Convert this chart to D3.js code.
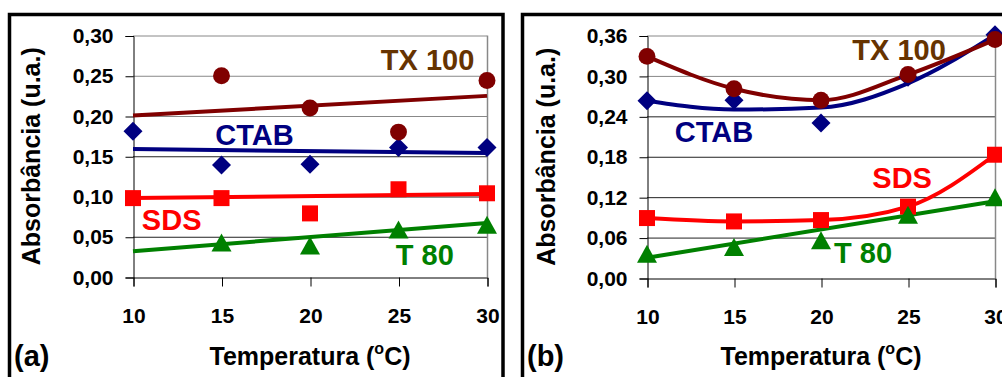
<!DOCTYPE html>
<html>
<head>
<meta charset="utf-8">
<script src="https://cdn.jsdelivr.net/npm/d3@7"></script>
<style>
  html, body { margin: 0; padding: 0; background: #fff; }
  svg { display: block; font-family: "Liberation Sans", Arial, sans-serif; font-weight: bold; }
</style>
</head>
<body>
<svg id="chart" width="1002" height="377"></svg>
<script>
// ---------- DATA ----------
const temps = [10, 15, 20, 25, 30];
const trendEnds = [10, 30];

// Panel (a): markers
const aTX100 = [null, 0.25, 0.21, 0.18, 0.244];
const aCTAB  = [0.181, 0.139, 0.14, 0.161, 0.161];
const aSDS   = [0.098, 0.098, 0.079, 0.109, 0.104];
const aT80   = [null, 0.043, 0.039, 0.059, 0.065];
// Panel (a): linear trend lines (values at 10 and 30 °C)
const aTrendTX100 = [0.2005, 0.225];
const aTrendCTAB  = [0.159, 0.154];
const aTrendSDS   = [0.098, 0.103];
const aTrendT80   = [0.032, 0.067];

// Panel (b): markers
const bTX100 = [0.329, 0.281, 0.264, 0.302, 0.354];
const bCTAB  = [0.263, 0.264, 0.230, 0.298, 0.361];
const bSDS   = [0.089, 0.084, 0.086, 0.106, 0.183];
const bT80   = [0.036, 0.046, 0.056, 0.094, 0.120];
// Panel (b): CTAB polynomial trend (at temps), T80 linear trend (at 10 and 30)
const bTrendCTAB = [0.263, 0.250, 0.253, 0.289, 0.361];
const bTrendT80  = [0.030, 0.114];

const yTicksA = [0, 0.05, 0.10, 0.15, 0.20, 0.25, 0.30];
const yTicksB = [0, 0.06, 0.12, 0.18, 0.24, 0.30, 0.36];
const xTicks = [10, 15, 20, 25, 30];

const seriesNames = ["TX 100", "CTAB", "SDS", "T 80"];
const panelLetters = ["(a)", "(b)"];
const xTitle = "Temperatura (";
const yTitle = "Absorbância (u.a.)";

// ---------- STYLE ----------
const col = { TX100: "#800000", TX100label: "#663300", CTAB: "#000080", SDS: "#FF0000", T80: "#008000" };

const svg = d3.select("#chart");
svg.append("rect").attr("width", 1002).attr("height", 377).attr("fill", "#fff");

const fmt = v => d3.format(".2f")(v).replace(".", ",");

const diamond = "M0,-9.5L9.5,0L0,9.5L-9.5,0Z";
const square = "M-8,-8L8,-8L8,8L-8,8Z";
const triangle = "M0,-9L10,9L-10,9Z";

function panel(cfg) {
  const g = svg.append("g");
  g.append("rect").attr("x", cfg.frame[0]).attr("y", cfg.frame[1])
    .attr("width", cfg.frame[2]).attr("height", cfg.frame[3])
    .attr("fill", "none").attr("stroke", "#000").attr("stroke-width", 3.5);

  const x = d3.scaleLinear().domain([10, 30]).range([cfg.x0, cfg.x1]);
  const y = d3.scaleLinear().domain([0, cfg.yMax]).range([cfg.y0, cfg.y1]);

  g.append("g").selectAll("line").data(cfg.yTicks.filter(v => v > 0)).join("line")
    .attr("x1", cfg.x0).attr("x2", cfg.x1)
    .attr("y1", d => y(d) + 0.5).attr("y2", d => y(d) + 0.5)
    .attr("stroke", d => d >= cfg.grayFrom - 1e-9 ? "#888" : "#222")
    .attr("stroke-width", 1);
  g.append("line").attr("x1", cfg.x1 + 0.5).attr("x2", cfg.x1 + 0.5)
    .attr("y1", cfg.y1).attr("y2", cfg.y0).attr("stroke", "#888").attr("stroke-width", 1.5);

  const ya = g.append("g").attr("transform", `translate(${cfg.x0 + 0.5},0.5)`)
    .call(d3.axisLeft(y).tickValues(cfg.yTicks).tickFormat(fmt).tickSize(8).tickPadding(12));
  ya.selectAll("text").attr("font-size", 21).attr("font-family", "Liberation Sans, Arial, sans-serif")
    .attr("font-weight", "bold").attr("fill", "#000");
  ya.selectAll("line, path").attr("stroke", "#000");

  const xa = g.append("g").attr("transform", `translate(0.5,${cfg.y0 + 0.5})`)
    .call(d3.axisBottom(x).tickValues(xTicks).tickFormat(d3.format("d")).tickSize(9).tickPadding(22));
  xa.selectAll("text").attr("font-size", 21).attr("font-family", "Liberation Sans, Arial, sans-serif")
    .attr("font-weight", "bold").attr("fill", "#000");
  xa.selectAll("line, path").attr("stroke", "#000");

  const xt = g.append("text").attr("x", (cfg.x0 + cfg.x1) / 2).attr("y", 365)
    .attr("text-anchor", "middle").attr("font-size", 25).attr("fill", "#000");
  xt.append("tspan").text(xTitle);
  xt.append("tspan").attr("font-size", 16).attr("dy", -11).text("o");
  xt.append("tspan").attr("dy", 11).text("C)");

  g.append("text").attr("transform", `translate(${cfg.yTitleX},${(cfg.y0 + cfg.y1) / 2}) rotate(-90)`)
    .attr("text-anchor", "middle").attr("font-size", 25).attr("fill", "#000").text(yTitle);

  g.append("text").attr("x", cfg.letterX).attr("y", 366).attr("font-size", 29).attr("fill", "#000").text(cfg.letter);

  const lineGen = (curve) => d3.line().defined(d => d[1] != null).x(d => x(d[0])).y(d => y(d[1])).curve(curve);

  cfg.lines.forEach(L => {
    g.append("path").datum(L.xs.map((t, i) => [t, L.vals[i]]))
      .attr("d", lineGen(L.curve)).attr("fill", "none").attr("stroke", L.color)
      .attr("stroke-width", 4).attr("stroke-linejoin", "round");
  });

  cfg.markers.forEach(M => {
    g.append("g").selectAll("path").data(temps.map((t, i) => [t, M.vals[i]]).filter(d => d[1] != null)).join("path")
      .attr("transform", d => `translate(${x(d[0])},${y(d[1])})`)
      .attr("d", M.shape === "circle" ? d3.symbol(d3.symbolCircle, 225)() : M.shape)
      .attr("fill", M.color);
  });

  cfg.labels.forEach(Lb => {
    g.append("text").attr("x", x(Lb.t)).attr("y", y(Lb.v)).attr("font-size", 29)
      .attr("fill", Lb.color).text(Lb.text);
  });
}

panel({
  frame: [9.5, 14.5, 493.5, 380], x0: 133, x1: 487, y0: 277, y1: 35.5, yMax: 0.30,
  yTicks: yTicksA, grayFrom: 0.20, yTitleX: 40, letterX: 14, letter: panelLetters[0],
  lines: [
    { xs: trendEnds, vals: aTrendCTAB, color: col.CTAB, curve: d3.curveLinear },
    { xs: trendEnds, vals: aTrendSDS, color: col.SDS, curve: d3.curveLinear },
    { xs: trendEnds, vals: aTrendT80, color: col.T80, curve: d3.curveLinear },
    { xs: trendEnds, vals: aTrendTX100, color: col.TX100, curve: d3.curveLinear }
  ],
  markers: [
    { vals: aCTAB, color: col.CTAB, shape: diamond },
    { vals: aSDS, color: col.SDS, shape: square },
    { vals: aT80, color: col.T80, shape: triangle },
    { vals: aTX100, color: col.TX100, shape: "circle" }
  ],
  labels: [
    { text: seriesNames[0], t: 24.0, v: 0.2574, color: col.TX100label },
    { text: seriesNames[1], t: 14.65, v: 0.1641, color: col.CTAB },
    { text: seriesNames[2], t: 10.5, v: 0.0584, color: col.SDS },
    { text: seriesNames[3], t: 24.85, v: 0.0149, color: col.T80 }
  ]
});

panel({
  frame: [522.5, 14.5, 520, 380], x0: 647, x1: 995, y0: 278, y1: 35.5, yMax: 0.36,
  yTicks: yTicksB, grayFrom: 0.30, yTitleX: 555, letterX: 527, letter: panelLetters[1],
  lines: [
    { xs: temps, vals: bTrendCTAB, color: col.CTAB, curve: d3.curveMonotoneX },
    { xs: temps, vals: bSDS, color: col.SDS, curve: d3.curveMonotoneX },
    { xs: trendEnds, vals: bTrendT80, color: col.T80, curve: d3.curveLinear },
    { xs: temps, vals: bTX100, color: col.TX100, curve: d3.curveMonotoneX }
  ],
  markers: [
    { vals: bCTAB, color: col.CTAB, shape: diamond },
    { vals: bSDS, color: col.SDS, shape: square },
    { vals: bT80, color: col.T80, shape: triangle },
    { vals: bTX100, color: col.TX100, shape: "circle" }
  ],
  labels: [
    { text: seriesNames[0], t: 21.8, v: 0.324, color: col.TX100label },
    { text: seriesNames[1], t: 11.6, v: 0.2023, color: col.CTAB },
    { text: seriesNames[2], t: 22.95, v: 0.134, color: col.SDS },
    { text: seriesNames[3], t: 20.75, v: 0.0227, color: col.T80 }
  ]
});
</script>
</body>
</html>
